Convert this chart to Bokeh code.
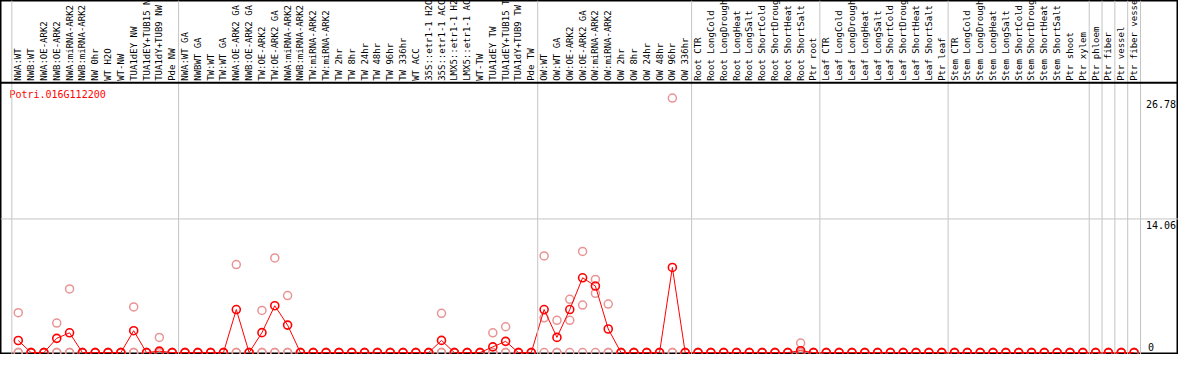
from math import pi
from bokeh.plotting import figure
from bokeh.models import Range1d, Span
from bokeh.core.properties import value
from bokeh.embed import file_html
from bokeh.resources import INLINE

gene = "Potri.016G112200"

labels = [
    "NWA:WT", "NWB:WT", "NWA:OE-ARK2", "NWB:OE-ARK2", "NWA:miRNA-ARK2", "NWB:miRNA-ARK2",
    "NW 0hr", "WT H2O", "WT-NW", "TUA1dEY NW", "TUA1dEY+TUB15 NW", "TUA1dY+TUB9 NW", "Pde NW",
    "NWA:WT GA", "NWBWT GA", "TW:WT", "TW:WT GA", "NWA:OE-ARK2 GA", "NWB:OE-ARK2 GA",
    "TW:OE-ARK2", "TW:OE-ARK2 GA", "NWA:miRNA-ARK2", "NWB:miRNA-ARK2", "TW:miRNA-ARK2",
    "TW:miRNA-ARK2", "TW 2hr", "TW 8hr", "TW 24hr", "TW 48hr", "TW 96hr", "TW 336hr",
    "WT ACC", "35S::etr1-1 H2O", "35S::etr1-1 ACC", "LMX5::etr1-1 H2O", "LMX5::etr1-1 ACC",
    "WT-TW", "TUA1dEY TW", "TUA1dEY+TUB15 TW", "TUA1dY+TUB9 TW", "Pde TW",
    "OW:WT", "OW:WT GA", "OW:OE-ARK2", "OW:OE-ARK2 GA", "OW:miRNA-ARK2", "OW:miRNA-ARK2",
    "OW 2hr", "OW 8hr", "OW 24hr", "OW 48hr", "OW 96hr", "OW 336hr",
    "Root CTR", "Root LongCold", "Root LongDrought", "Root LongHeat", "Root LongSalt",
    "Root ShortCold", "Root ShortDrought", "Root ShortHeat", "Root ShortSalt", "Ptr root",
    "Leaf CTR", "Leaf LongCold", "Leaf LongDrought", "Leaf LongHeat", "Leaf LongSalt",
    "Leaf ShortCold", "Leaf ShortDrought", "Leaf ShortHeat", "Leaf ShortSalt", "Ptr leaf",
    "Stem CTR", "Stem LongCold", "Stem LongDrought", "Stem LongHeat", "Stem LongSalt",
    "Stem ShortCold", "Stem ShortDrought", "Stem ShortHeat", "Stem ShortSalt", "Ptr shoot",
    "Ptr xylem", "Ptr phloem", "Ptr fiber", "Ptr vessel", "Ptr fiber vessel",
]

group_sizes = [13, 28, 12, 10, 10, 11, 1, 1, 1, 1]

mean = [
    1.27, 0, 0, 1.5, 2.08, 0, 0, 0, 0, 2.3, 0, 0.15, 0,
    0, 0, 0, 0, 4.53, 0, 2.1, 4.93, 2.89, 0, 0, 0, 0, 0, 0, 0, 0, 0, 0, 0, 1.28, 0, 0, 0, 0.6, 1.18, 0, 0,
    4.53, 1.6, 4.53, 7.87, 7.0, 2.48, 0, 0, 0, 0, 8.96, 0,
    0, 0, 0, 0, 0, 0, 0, 0, 0.2, 0,
    0, 0, 0, 0, 0, 0, 0, 0, 0, 0,
    0, 0, 0, 0, 0, 0, 0, 0, 0, 0, 0,
    0, 0, 0, 0,
]

rep_a = [
    4.2, 0, 0, 3.1, 6.7, 0, 0, 0, 0, 4.8, 0, 1.6, 0,
    0, 0, 0, 0, 9.26, 0, 4.43, 9.96, 6.0, 0, 0, 0, 0, 0, 0, 0, 0, 0, 0, 0, 4.13, 0, 0, 0, 2.08, 2.72, 0, 0,
    10.17, 3.39, 5.6, 10.64, 7.7, 5.1, 0, 0, 0, 0, 26.78, 0,
    0, 0, 0, 0, 0, 0, 0, 0, 1.0, 0,
    0, 0, 0, 0, 0, 0, 0, 0, 0, 0,
    0, 0, 0, 0, 0, 0, 0, 0, 0, 0, 0,
    0, 0, 0, 0,
]

rep_b = [
    0, 0, 0, 0, 0, 0, 0, 0, 0, 0, 0, 0, 0,
    0, 0, 0, 0, 0, 0, 0, 0, 0, 0, 0, 0, 0, 0, 0, 0, 0, 0, 0, 0, 0, 0, 0, 0, 0, 0, 0, 0,
    3.66, 0, 3.39, 5.0, 6.24, 0, 0, 0, 0, 0, 0, 0,
    0, 0, 0, 0, 0, 0, 0, 0, 0, 0,
    0, 0, 0, 0, 0, 0, 0, 0, 0, 0,
    0, 0, 0, 0, 0, 0, 0, 0, 0, 0, 0,
    0, 0, 0, 0,
]

tick_values = [0, 14.06, 26.78]
tick_labels = ["0", "14.06", "26.78"]

# ---- layout (reference pixel geometry) ----
W, H = 1178, 354
W_REF, H_REF = 1194, 370
X0, DX = 18, 13          # x of first category, spacing
Y_ZERO, Y_TOP = 368, 86  # y of value 0, top of the plot region

ymax = tick_values[-1] * 1.06
ppu = (Y_ZERO - Y_TOP) / ymax


def vx(px):
    return (px - X0) / DX


def vy(py):
    return (Y_ZERO - py) / ppu


xs = list(range(len(labels)))
mono = value("DejaVu Sans Mono")

p = figure(width=W, height=H, output_backend="svg", toolbar_location=None,
           x_range=Range1d(vx(0), vx(W_REF)), y_range=Range1d(vy(H_REF), vy(0)),
           x_axis_location=None, y_axis_location=None, min_border=0)
p.grid.visible = False
p.outline_line_color = "black"
p.outline_line_width = 2
p.background_fill_color = "white"
p.border_fill_color = "white"

# group separators
seps = [-0.5]
c = 0
for s in group_sizes:
    c += s
    seps.append(c - 0.5)
for s in seps:
    p.add_layout(Span(location=s, dimension="height", line_color="#c4c4c4", line_width=1))

# middle grid line
p.add_layout(Span(location=tick_values[1], dimension="width", line_color="#c4c4c4", line_width=1))
# separator between labels and plot
p.add_layout(Span(location=ymax, dimension="width", line_color="black", line_width=2))

# replicate circles
pink = "#e99494"
for rep in (rep_b, rep_a):
    p.scatter(xs, rep, marker="circle", size=8, fill_color=None, line_color=pink, line_width=1.5)
p.scatter(xs, [0] * len(xs), marker="circle", size=8, fill_color=None, line_color=pink, line_width=1.5)

# mean line + circles
p.line(xs, mean, line_color="#ff0000", line_width=1)
p.scatter(xs, mean, marker="circle", size=8, fill_color=None, line_color="#ff0000", line_width=1.6)

# category labels (rotated)
p.text(x=xs, y=[vy(84)] * len(xs), text=labels, angle=pi / 2, text_align="left",
       text_baseline="middle", text_font=mono, text_font_size="9px", text_color="black")

# gene name
p.text(x=[vx(9)], y=[vy(92)], text=[gene], text_align="left", text_baseline="top",
       text_font=mono, text_font_size="10px", text_color="#ff0000")

# value labels on the right
p.text(x=[vx(1161)] * 2, y=tick_values[1:], text=tick_labels[1:], text_align="left",
       text_baseline="top", y_offset=2, text_font=mono, text_font_size="10px", text_color="black")
p.text(x=[vx(1163)], y=tick_values[:1], text=tick_labels[:1], text_align="left",
       text_baseline="bottom", y_offset=-2, text_font=mono, text_font_size="10px", text_color="black")

open("out.html", "w").write(file_html(p, INLINE))
